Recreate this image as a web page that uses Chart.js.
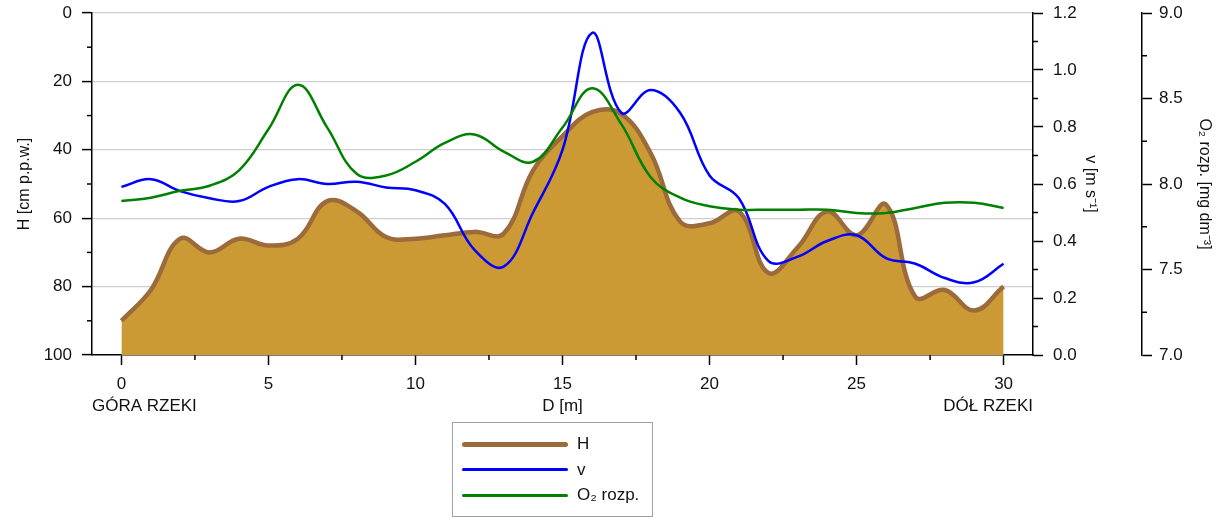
<!DOCTYPE html>
<html>
<head>
<meta charset="utf-8">
<script src="https://cdn.jsdelivr.net/npm/chart.js@4.4.1/dist/chart.umd.min.js"></script>
<style>
  html, body { margin: 0; padding: 0; background: #fff; }
  #wrap { position: relative; width: 1223px; height: 520px; }
  #legend {
    position: absolute; left: 452px; top: 422px; width: 201px; height: 95px;
    border: 1px solid #a0a0a0; box-sizing: border-box;
    font: 17px 'Liberation Sans', Arial, sans-serif; color: #111;
  }
  #legend .row { position: absolute; left: 0; width: 100%; height: 24px; }
  #legend .swatch { position: absolute; left: 9px; width: 106px; top: 50%; border-radius: 3px; }
  #legend .txt { position: absolute; left: 124px; top: 50%; transform: translateY(-52%); line-height: 20px; }
</style>
</head>
<body>
<div id="wrap">
  <canvas id="chart"></canvas>
  <div id="legend"></div>
</div>
<script>
// odległość od początku odcinka [m]
const D = [0, 1, 2, 3, 4, 5, 6, 7, 8, 9, 10, 11, 12, 13, 14, 15, 16, 17, 18, 19, 20, 21, 22, 23, 24, 25, 26, 27, 28, 29, 30];
// głębokość H [cm p.p.w.]
const H = [90, 81, 66, 70, 66, 68, 66, 55, 58, 65.5, 66, 65, 64, 64.5, 46, 36, 29, 29.5, 41, 61, 61.5, 58, 76, 68.5, 58, 65, 56, 83, 81, 87, 80];
// prędkość v [m s-1]
const V = [0.59, 0.617, 0.575, 0.55, 0.54, 0.59, 0.617, 0.60, 0.608, 0.588, 0.578, 0.53, 0.37, 0.31, 0.50, 0.72, 1.13, 0.85, 0.93, 0.85, 0.63, 0.55, 0.33, 0.345, 0.40, 0.42, 0.34, 0.32, 0.27, 0.255, 0.32];
// tlen rozpuszczony [mg dm-3]
const O2 = [7.90, 7.92, 7.96, 7.99, 8.08, 8.32, 8.58, 8.33, 8.06, 8.05, 8.13, 8.24, 8.29, 8.19, 8.13, 8.33, 8.56, 8.35, 8.04, 7.92, 7.87, 7.85, 7.85, 7.85, 7.85, 7.83, 7.83, 7.86, 7.89, 7.89, 7.86];

const X_TICKS = [0, 2.5, 5, 7.5, 10, 12.5, 15, 17.5, 20, 22.5, 25, 27.5, 30];
const X_LABELS = [0, 5, 10, 15, 20, 25, 30];
const H_TICKS = [0, 10, 20, 30, 40, 50, 60, 70, 80, 90, 100];
const H_LABELS = [0, 20, 40, 60, 80, 100];
const V_TICKS = [0, 0.1, 0.2, 0.3, 0.4, 0.5, 0.6, 0.7, 0.8, 0.9, 1.0, 1.1, 1.2];
const V_LABELS = [0, 0.2, 0.4, 0.6, 0.8, 1.0, 1.2];
const O2_TICKS = [7, 7.25, 7.5, 7.75, 8, 8.25, 8.5, 8.75, 9];
const O2_LABELS = [7, 7.5, 8, 8.5, 9];
const RIVER_ENDS = ['GÓRA RZEKI', 'DÓŁ RZEKI'];

const FONT = "'Liberation Sans', Arial, sans-serif";
const TXT = '#111';

const pts = ys => D.map((d, i) => ({ x: d, y: ys[i] }));
const setTicks = list => scale => { scale.ticks = list.map(v => ({ value: v })); };
const labelFrom = (list, digits) => v => list.includes(v) ? v.toFixed(digits) : '';
const tickCol = ctx => (ctx.tick && ctx.tick.label !== '') ? '#000' : 'rgba(0,0,0,0)';
// stała szerokość osi pionowej, górny margines 13 px
const fitY = w => s => { s.width = w; s.paddingTop = 13; s.paddingBottom = 0; };

// krótkie podziałki pomocnicze + opisy końców odcinka
const extras = {
  id: 'extras',
  afterDraw(chart) {
    const ctx = chart.ctx;
    ctx.save();
    ctx.strokeStyle = '#000';
    ctx.lineWidth = 1.5;
    Object.values(chart.scales).forEach(s => {
      s.ticks.forEach(t => {
        if (t.label !== '') return;
        const p = s.getPixelForValue(t.value);
        ctx.beginPath();
        if (s.axis === 'x') { ctx.moveTo(p, s.top); ctx.lineTo(p, s.top + 5); }
        else if (s.position === 'left') { ctx.moveTo(s.right - 5, p); ctx.lineTo(s.right, p); }
        else { ctx.moveTo(s.left, p); ctx.lineTo(s.left + 5, p); }
        ctx.stroke();
      });
    });
    const xs = chart.scales.x, a = chart.chartArea;
    ctx.fillStyle = TXT;
    ctx.font = '17px ' + FONT;
    ctx.textBaseline = 'middle';
    const y = xs.bottom - 2 - 10.2;
    ctx.textAlign = 'left';
    ctx.fillText(RIVER_ENDS[0], a.left, y);
    ctx.textAlign = 'right';
    ctx.fillText(RIVER_ENDS[1], a.right, y);
    ctx.restore();
  }
};

const chart = new Chart(document.getElementById('chart'), {
  type: 'line',
  data: {
    datasets: [
      {
        label: 'H',
        data: pts(H),
        yAxisID: 'yH',
        borderColor: '#9C6B3B',
        backgroundColor: '#CC9A35',
        borderWidth: 4.5,
        fill: { value: 100 },
        tension: 0.4,
        pointRadius: 0,
        order: 3
      },
      {
        label: 'v',
        data: pts(V),
        yAxisID: 'yV',
        borderColor: '#0000FF',
        borderWidth: 2.5,
        fill: false,
        tension: 0.4,
        pointRadius: 0,
        order: 2
      },
      {
        label: 'O₂ rozp.',
        data: pts(O2),
        yAxisID: 'yO',
        borderColor: '#008000',
        borderWidth: 2.5,
        fill: false,
        tension: 0.4,
        pointRadius: 0,
        order: 1
      }
    ]
  },
  options: {
    responsive: true,
    maintainAspectRatio: false,
    animation: false,
    layout: { padding: { top: 0, bottom: 101, left: 0, right: 0 } },
    plugins: { legend: { display: false }, tooltip: { enabled: false } },
    scales: {
      x: {
        type: 'linear',
        min: -1,
        max: 31,
        afterBuildTicks: setTicks(X_TICKS),
        afterFit: s => { s.height = 64; },
        ticks: { callback: labelFrom(X_LABELS, 0), autoSkip: false, maxRotation: 0, padding: 9, color: TXT, font: { family: FONT, size: 17 } },
        grid: { drawOnChartArea: false, tickLength: 10, tickWidth: 1.5, tickColor: tickCol },
        border: { color: '#000', width: 1.5 },
        title: { display: true, text: 'D [m]', color: TXT, font: { family: FONT, size: 17 }, padding: { top: 0, bottom: 2 } }
      },
      yH: {
        position: 'left',
        reverse: true,
        min: 0,
        max: 100,
        afterBuildTicks: setTicks(H_TICKS),
        afterFit: fitY(92),
        ticks: { callback: labelFrom(H_LABELS, 0), autoSkip: false, padding: 10, color: TXT, font: { family: FONT, size: 17 } },
        grid: {
          color: ctx => (ctx.tick && ctx.tick.value % 20 === 0 && ctx.tick.value !== 100) ? '#cfcfcf' : 'rgba(0,0,0,0)',
          lineWidth: 1.2,
          tickLength: 10,
          tickWidth: 1.5,
          tickColor: tickCol
        },
        border: { color: '#000', width: 1.5 },
        title: { display: true, text: 'H [cm p.p.w.]', color: TXT, font: { family: FONT, size: 16 }, padding: { top: 15, bottom: 0 } }
      },
      yV: {
        position: 'right',
        weight: 0,
        min: 0,
        max: 1.2,
        afterBuildTicks: setTicks(V_TICKS),
        afterFit: fitY(109),
        ticks: { callback: labelFrom(V_LABELS, 1), autoSkip: false, padding: 10, color: TXT, font: { family: FONT, size: 17 } },
        grid: { drawOnChartArea: false, tickLength: 10, tickWidth: 1.5, tickColor: tickCol },
        border: { color: '#000', width: 1.5 },
        title: { display: true, text: 'v [m s⁻¹]', color: TXT, font: { family: FONT, size: 16 }, padding: { top: 42, bottom: 0 } }
      },
      yO: {
        position: 'right',
        weight: 1,
        min: 7,
        max: 9,
        afterBuildTicks: setTicks(O2_TICKS),
        afterFit: fitY(81),
        ticks: { callback: labelFrom(O2_LABELS, 1), autoSkip: false, padding: 7, color: TXT, font: { family: FONT, size: 17 } },
        grid: { drawOnChartArea: false, tickLength: 10, tickWidth: 1.5, tickColor: tickCol },
        border: { color: '#000', width: 1.5 },
        title: { display: true, text: 'O₂ rozp. [mg dm⁻³]', color: TXT, font: { family: FONT, size: 16 }, padding: { top: 9, bottom: 0 } }
      }
    }
  },
  plugins: [extras]
});

// legenda w ramce, jak w oryginale
const legend = document.getElementById('legend');
const rowTops = [9, 34.5, 60];
chart.data.datasets.forEach((ds, i) => {
  const row = document.createElement('div');
  row.className = 'row';
  row.style.top = rowTops[i] + 'px';
  const sw = document.createElement('div');
  sw.className = 'swatch';
  sw.style.height = (i === 0 ? 5 : 3) + 'px';
  sw.style.marginTop = (i === 0 ? -2.5 : -1.5) + 'px';
  sw.style.background = ds.borderColor;
  const tx = document.createElement('div');
  tx.className = 'txt';
  tx.textContent = ds.label;
  row.appendChild(sw);
  row.appendChild(tx);
  legend.appendChild(row);
});
</script>
</body>
</html>
